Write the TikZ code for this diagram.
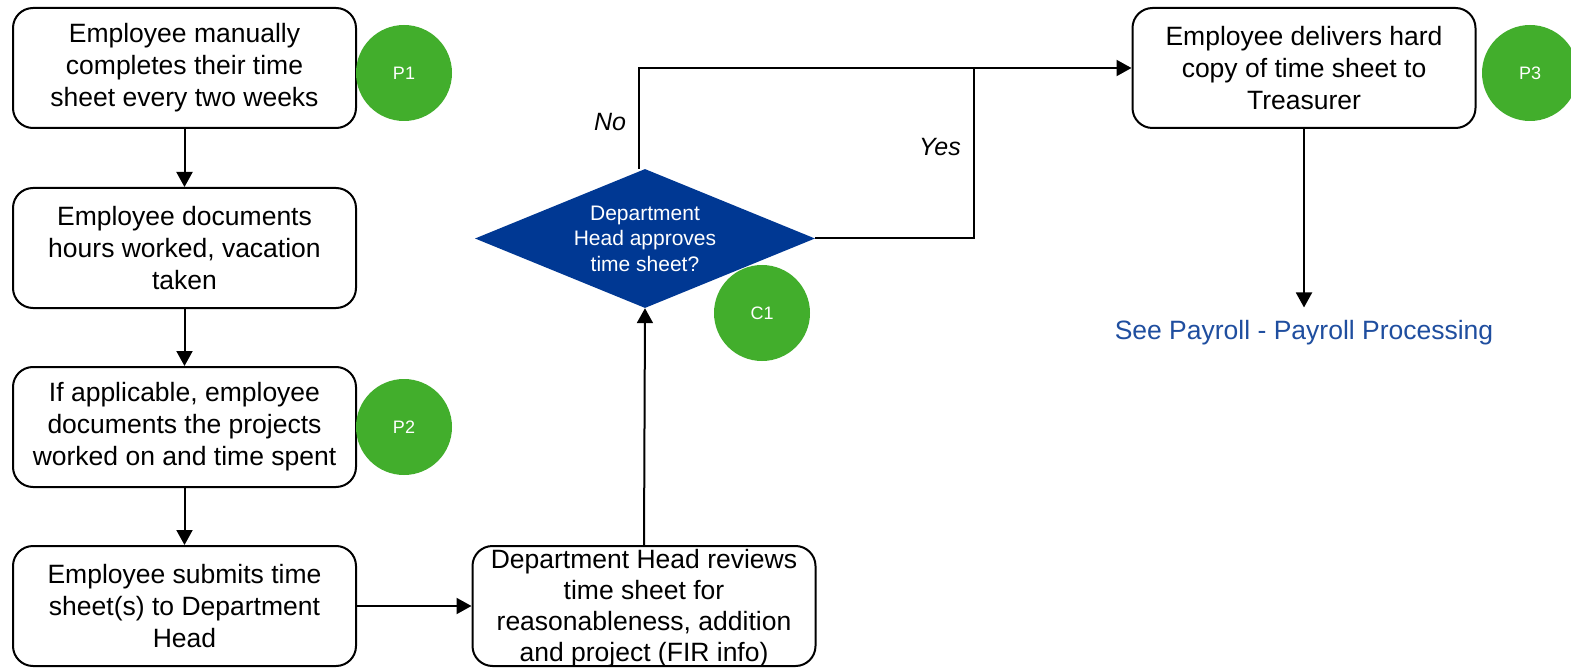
\documentclass[tikz,border=0pt]{standalone}
\usepackage{fontspec}
\setmainfont{Liberation Sans}
\usetikzlibrary{shapes.geometric,arrows.meta}
\definecolor{stepgreen}{RGB}{66,174,44}
\definecolor{decblue}{RGB}{0,56,147}
\definecolor{linkblue}{RGB}{31,78,159}
\begin{document}
\begin{tikzpicture}[x=1pt,y=-1pt,
  procbox/.style={draw=black,line width=2pt,rounded corners=20pt,minimum width=343pt,
    minimum height=120pt,inner sep=0pt,align=center,font=\fontsize{26.5}{32}\selectfont},
  marker/.style={circle,fill=stepgreen,minimum size=96pt,inner sep=0pt,text=white,
    font=\fontsize{18}{20}\selectfont},
  flow/.style={line width=2pt,-{Triangle[length=15pt,width=16pt]}},
  plain/.style={line width=2pt},
  answer/.style={font=\fontsize{25}{30}\selectfont\itshape}
]
\useasboundingbox (0,0) rectangle (1571,668);
\fill[white] (0,0) rectangle (1571,668);

% employee steps, left column
\node[procbox] (b1) at (184.5,68) {Employee manually\\completes their time\\sheet every two weeks};
\node[procbox] (b2) at (184.5,248) {Employee documents\\hours worked, vacation\\taken};
\node[procbox] (b3) at (184.5,427) {If applicable, employee\\documents the projects\\worked on and time spent};
\node[procbox] (b4) at (184.5,606) {Employee submits time\\sheet(s) to Department\\Head};

% department head review
\node[procbox] (b5) at (644,606) {};
\node[align=center,font=\fontsize{26.5}{31}\selectfont,inner sep=0pt] (b5text) at (644,608)
  {Department Head reviews\\time sheet for\\reasonableness, addition\\and project (FIR info)};

% approval decision
\node[diamond,fill=decblue,minimum width=340pt,minimum height=139pt,inner sep=0pt] (dia) at (645,238.5) {};
\node[text=white,align=center,font=\fontsize{21}{25.5}\selectfont,inner sep=0pt] (diatext) at (dia.center)
  {Department\\Head approves\\time sheet?};

% treasurer step
\node[procbox] (b6) at (1304,68) {Employee delivers hard\\copy of time sheet to\\Treasurer};
\node[text=linkblue,font=\fontsize{26.5}{32}\selectfont,inner sep=13pt] (payroll) at (1304,333)
  {See Payroll - Payroll Processing};

% connectors
\draw[flow] (b1) -- (b2);
\draw[flow] (b2) -- (b3);
\draw[flow] (b3) -- (b4);
\draw[flow] (b4.east) -- (b5.west);
\draw[flow] (b5.north) -- (dia.south);
\coordinate (merge) at (974,68);
\draw[plain] (dia.east) -| (merge);
\draw[flow] ([xshift=-6pt]dia.north) |- (b6.west);
\draw[flow] (b6.south) -- (payroll.north);

\node[answer] (nolabel) at (610,122) {No};
\node[answer] (yeslabel) at (940,147) {Yes};

% control markers
\node[marker] (p1) at (404,73) {P1};
\node[marker] (p2) at (404,427) {P2};
\node[marker] (c1) at (762,313) {C1};
\node[marker] (p3) at (1530,73) {P3};
\end{tikzpicture}
\end{document}
